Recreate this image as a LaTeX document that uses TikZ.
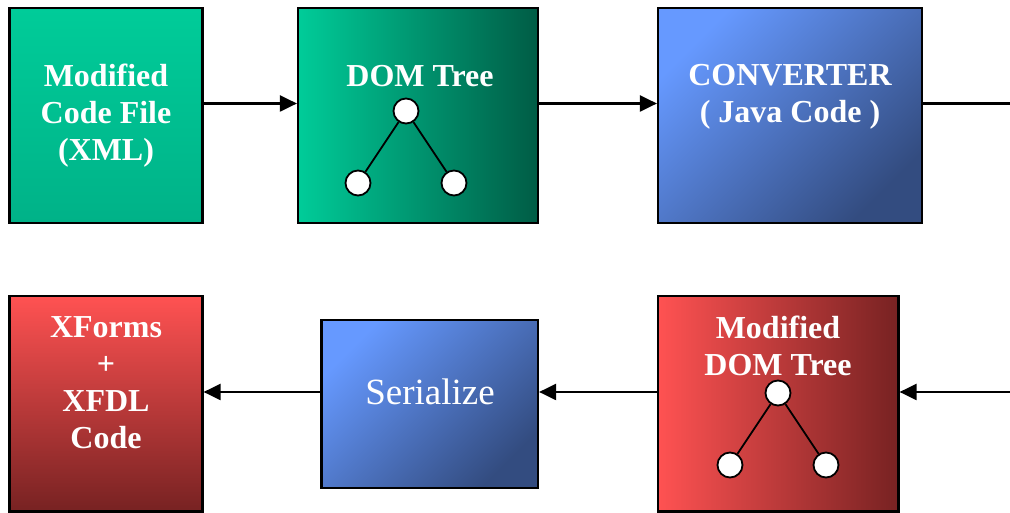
\documentclass[tikz,border=0pt]{standalone}
\usepackage{fontspec}
\setmainfont{Liberation Serif}
\usetikzlibrary{arrows.meta}

\definecolor{grnA}{HTML}{00CC99}
\definecolor{grnB}{HTML}{00B288}
\definecolor{grnM}{HTML}{00A880}
\definecolor{grnD}{HTML}{005C45}
\definecolor{bluA}{HTML}{6699FF}
\definecolor{bluD}{HTML}{334C80}
\definecolor{redA}{HTML}{FF5252}
\definecolor{redM}{HTML}{C83C3C}
\definecolor{redD}{HTML}{772222}

\tikzset{
  box/.style={draw=black, line width=2.2pt, rectangle, inner sep=0pt},
  greenflat/.style={box, top color=grnA, bottom color=grnB},
  greenside/.style={box, left color=grnA, middle color=grnM, right color=grnD},
  bluediag/.style={box, top color=bluA, bottom color=bluD, shading angle=45},
  redflat/.style={box, top color=redA, bottom color=redD},
  redside/.style={box, left color=redA, middle color=redM, right color=redD},
  label/.style={text=white, align=center, inner sep=0pt,
    font=\fontsize{32}{37}\selectfont\bfseries},
  plain/.style={text=white, align=center, inner sep=0pt,
    font=\fontsize{37}{42}\selectfont},
  treenode/.style={circle, draw=black, fill=white, line width=1.8pt,
    minimum size=25pt, inner sep=0pt},
  treeedge/.style={line width=1.8pt},
  flow/.style={line width=2.2pt, -{Triangle[length=17pt,width=16pt]}},
  wire/.style={line width=2.2pt},
}

\begin{document}
\begin{tikzpicture}[x=1pt, y=1pt]
\useasboundingbox (0,0) rectangle (1010,513);

% upper row: source file, DOM tree, converter
\node[greenflat, minimum width=193pt, minimum height=215pt] (src) at (106,397.5) {};
\node[greenside, minimum width=240pt, minimum height=215pt] (dom) at (418,397.5) {};
\node[bluediag, minimum width=264pt, minimum height=215pt] (conv) at (790,397.5) {};

% lower row: output code, serializer, modified DOM tree
\node[redflat, minimum width=193pt, minimum height=215.5pt] (out) at (106,109.25) {};
\node[bluediag, minimum width=216.5pt, minimum height=168pt] (ser) at (429.75,109) {};
\node[redside, minimum width=240.5pt, minimum height=215.5pt] (mdom) at (778.25,109.25) {};

% texts
\node[label] (srcT) at (106,397.5) {Modified\\Code File\\(XML)};
\node[label] (domT) at (420,437) {DOM Tree};
\node[label] (convT) at (790,416) {CONVERTER\\( Java Code )};
\node[label] (outT) at (106,130) {XForms\\+\\XFDL\\Code};
\node[plain] (serT) at (430,121) {Serialize};
\node[label] (mdomT) at (778,167) {Modified\\DOM Tree};

% small trees
\node[treenode] (t1r) at (406,402) {};
\node[treenode] (t1a) at (358,330) {};
\node[treenode] (t1b) at (454,330) {};
\draw[treeedge] (t1r) -- (t1a);
\draw[treeedge] (t1r) -- (t1b);

\node[treenode] (t2r) at (778,120) {};
\node[treenode] (t2a) at (730,48) {};
\node[treenode] (t2b) at (826,48) {};
\draw[treeedge] (t2r) -- (t2a);
\draw[treeedge] (t2r) -- (t2b);

% connector rows
\coordinate (rowA) at (0,409.5);
\coordinate (rowB) at (0,121);
\coordinate (edgeA) at (1010,409.5);
\coordinate (edgeB) at (1010,121);

\draw[flow] (src.east |- rowA) -- (dom.west |- rowA);
\draw[flow] (dom.east |- rowA) -- (conv.west |- rowA);
\draw[wire] (conv.east |- rowA) -- (edgeA);

\draw[flow] (edgeB) -- (mdom.east |- rowB);
\draw[flow] (mdom.west |- rowB) -- (ser.east |- rowB);
\draw[flow] (ser.west |- rowB) -- (out.east |- rowB);
\end{tikzpicture}
\end{document}
